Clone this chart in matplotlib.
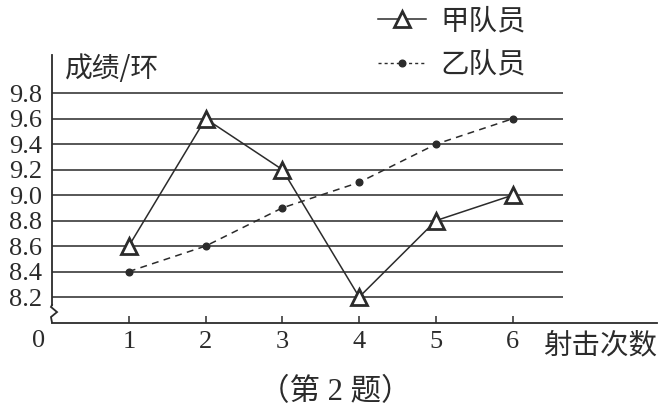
import matplotlib
matplotlib.use("Agg")
import matplotlib.pyplot as plt
from matplotlib.lines import Line2D

# ---- data ----
shots = [1, 2, 3, 4, 5, 6]
jia = [8.6, 9.6, 9.2, 8.2, 8.8, 9.0]
yi = [8.4, 8.6, 8.9, 9.1, 9.4, 9.6]
y_ticks = [8.2, 8.4, 8.6, 8.8, 9.0, 9.2, 9.4, 9.6, 9.8]
y_tick_labels = ["8.2", "8.4", "8.6", "8.8", "9.0", "9.2", "9.4", "9.6", "9.8"]
x_tick_labels = ["1", "2", "3", "4", "5", "6"]
series_names = ["甲队员", "乙队员"]
y_label = "成绩/环"
x_label = "射击次数"
caption = "（第 2 题）"

CJK = ["Noto Sans CJK SC", "DejaVu Sans"]
NUM = ["Liberation Serif", "DejaVu Serif"]
MIX = ["Liberation Serif", "Noto Sans CJK SC", "DejaVu Sans"]
INK = "#2b2b2b"

fig = plt.figure(figsize=(6.63, 4.20), dpi=100)
W, H = 663, 420
left_px, right_px, bottom_px, top_px = 52, 657, 322.5, 55
ax = fig.add_axes([left_px / W, 1 - bottom_px / H,
                   (right_px - left_px) / W, (bottom_px - top_px) / H])
x_end = (right_px - left_px) / 76.8
ax.set_xlim(0, x_end)
ax.set_ylim(8.0, 10.1)

# horizontal grid lines
ax.hlines(y_ticks, 0, 6.65, colors="#3a3a3a", linewidth=1.2, zorder=1)

# series
ax.plot(shots, jia, color=INK, linewidth=1.1, marker="^", markersize=12,
        markerfacecolor="white", markeredgecolor=INK, markeredgewidth=2.0, zorder=4)
ax.plot(shots, yi, color=INK, linewidth=1.1, dashes=(4.5, 3.5), marker="o",
        markersize=4.8, markerfacecolor=INK, markeredgecolor=INK, zorder=3)

# spines
for s in ["top", "right"]:
    ax.spines[s].set_visible(False)
ax.spines["bottom"].set_color(INK)
ax.spines["bottom"].set_linewidth(1.3)
ax.spines["left"].set_color(INK)
ax.spines["left"].set_linewidth(1.3)
ax.spines["left"].set_bounds(8.137, 10.1)

# axis break zigzag
tr = ax.get_yaxis_transform()
zx = [0.0, -0.0017, 0.0083, -0.0017, 0.0]
zy = [8.137, 8.122, 8.082, 8.043, 8.0]
ax.plot(zx, zy, color=INK, linewidth=1.3, transform=tr, clip_on=False,
        solid_joinstyle="miter")

# ticks
ax.set_yticks(y_ticks)
ax.set_yticklabels(y_tick_labels, family=NUM, fontsize=19, color=INK)
ax.tick_params(axis="y", length=0, pad=7)
ax.set_xticks(shots)
ax.set_xticklabels(x_tick_labels, family=NUM, fontsize=19, color=INK)
ax.tick_params(axis="x", direction="in", length=5, width=1.1, color=INK, pad=6)

# labels
fig.text(65 / W, 1 - 69 / H, y_label, family=CJK, fontsize=20, color=INK,
         ha="left", va="center")
fig.text(543 / W, 1 - 345 / H, x_label, family=CJK, fontsize=20.5, color=INK,
         ha="left", va="center")
fig.text(39 / W, 1 - 341 / H, "0", family=NUM, fontsize=19, color=INK,
         ha="center", va="center")
fig.text(335 / W, 1 - 393 / H, caption, family=MIX, fontsize=22, color=INK,
         ha="center", va="center")

# legend
h1 = Line2D([], [], color=INK, linewidth=1.1, marker="^", markersize=12,
            markerfacecolor="white", markeredgecolor=INK, markeredgewidth=2.0)
h2 = Line2D([], [], color=INK, linewidth=1.0, dashes=(2.2, 2.2), marker="o",
            markersize=4.8, markerfacecolor=INK, markeredgecolor=INK)
fig.legend([h1, h2], series_names, loc="upper left",
           bbox_to_anchor=(378 / W, 1 - 6 / H), frameon=False,
           prop={"family": CJK, "size": 20.5}, labelcolor=INK,
           handlelength=1.7, handletextpad=0.5, labelspacing=0.48,
           borderpad=0, borderaxespad=0, numpoints=1)

fig.savefig("out.png", dpi=100, facecolor="white")
